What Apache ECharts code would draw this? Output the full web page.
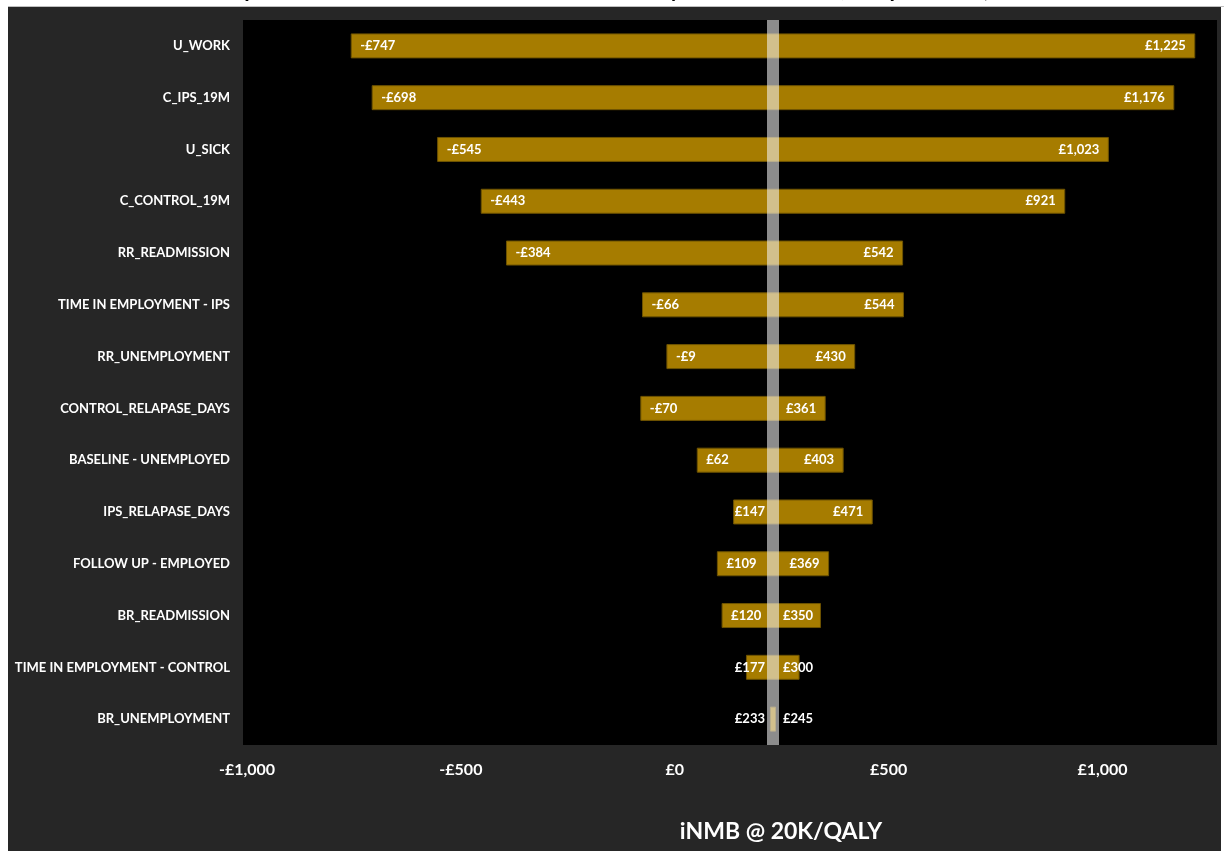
<!DOCTYPE html>
<html>
<head>
<meta charset="utf-8">
<script src="https://cdn.jsdelivr.net/npm/echarts@6/dist/echarts.min.js"></script>
<style>
html,body{margin:0;padding:0;background:#fff;}
#c{width:1224px;height:851px;}
</style>
</head>
<body>
<div id="c"></div>
<script>
const categories = ['U_WORK','C_IPS_19M','U_SICK','C_CONTROL_19M','RR_READMISSION','TIME IN EMPLOYMENT - IPS','RR_UNEMPLOYMENT','CONTROL_RELAPASE_DAYS','BASELINE - UNEMPLOYED','IPS_RELAPASE_DAYS','FOLLOW UP - EMPLOYED','BR_READMISSION','TIME IN EMPLOYMENT - CONTROL','BR_UNEMPLOYMENT'];
const lowValues  = [-747,-698,-545,-443,-384,-66,-9,-70,62,147,109,120,177,233];
const highValues = [1225,1176,1023,921,542,544,430,361,403,471,369,350,300,245];
const baseValue = 239;
const axisMin = -1000, axisMax = 1277, axisStep = 500;
const titleText = 'parameters on the incremental net monetary benefit at a £20,000 per QALY)';
const axisTitle = 'iNMB @ 20K/QALY';

const FONT = 'Lato, "Open Sans", sans-serif';
const LABEL_FONT = 'bold 13px ' + FONT;

function fmt(v){
  const s = Math.abs(Math.round(v)).toString().replace(/\B(?=(\d{3})+(?!\d))/g, ',');
  return (v < 0 ? '-£' : '£') + s;
}
const mctx = document.createElement('canvas').getContext('2d');
function measure(t){ mctx.font = LABEL_FONT; return mctx.measureText(t).width; }

const chart = echarts.init(document.getElementById('c'), null, {renderer:'canvas'});
const data = categories.map((c,i)=>[i, lowValues[i], highValues[i]]);

chart.setOption({
  backgroundColor:'#ffffff',
  animation:false,
  graphic:[
    {type:'rect', z:-10, shape:{x:8, y:7, width:1213, height:844}, style:{fill:'#262626'}},
    {type:'line', z:-9, shape:{x1:8, y1:6.5, x2:1224, y2:6.5}, style:{stroke:'#bfbfbf', lineWidth:1}},
    {type:'text', z:-8, x:617, y:1, style:{text:titleText, fill:'#000', font:'bold 22px ' + FONT, align:'center', verticalAlign:'bottom'}},
    {type:'text', x:781, y:832, style:{text:axisTitle, fill:'#ffffff', font:'bold 23px ' + FONT, align:'center', verticalAlign:'middle'}}
  ],
  grid:{left:243, right:7, top:20, bottom:106, show:true, backgroundColor:'#000000', borderWidth:0},
  xAxis:{
    type:'value', min:axisMin, max:axisMax, interval:axisStep,
    splitLine:{show:false}, axisLine:{show:false}, axisTick:{show:false},
    axisLabel:{
      color:'#ffffff', fontFamily:FONT, fontWeight:'bold', fontSize:16, margin:17,
      padding:[0,0,0,8],
      formatter:v => (v % axisStep === 0 ? fmt(v) : '')
    }
  },
  yAxis:{
    type:'category', data:categories, inverse:true,
    axisLine:{show:false}, axisTick:{show:false}, splitLine:{show:false},
    axisLabel:{color:'#ffffff', fontFamily:FONT, fontWeight:'bold', fontSize:13, margin:13}
  },
  series:[
    {
      type:'custom',
      z:2,
      data:data,
      encode:{x:[1,2], y:0},
      renderItem:function(params, api){
        const cat = api.value(0), lo = api.value(1), hi = api.value(2);
        const p0 = api.coord([lo, cat]);
        const p1 = api.coord([hi, cat]);
        const pb = api.coord([baseValue, cat]);
        const h = 24, y = p0[1];
        const loT = fmt(lo), hiT = fmt(hi);
        const loX = Math.min(p0[0] + 9, pb[0] - 8 - measure(loT));
        const hiX = Math.max(p1[0] - 9, pb[0] + 10 + measure(hiT));
        return {type:'group', children:[
          {type:'rect', shape:{x:p0[0], y:y - h/2, width:p1[0] - p0[0], height:h},
           style:{fill:'#A67C00', stroke:'#6e5300', lineWidth:1}},
          {type:'text', z2:20, x:loX, y:y, style:{text:loT, fill:'#ffffff', font:LABEL_FONT, align:'left', verticalAlign:'middle'}},
          {type:'text', z2:20, x:hiX, y:y, style:{text:hiT, fill:'#ffffff', font:LABEL_FONT, align:'right', verticalAlign:'middle'}}
        ]};
      }
    },
    {
      type:'line', z:5, data:[], silent:true,
      markLine:{
        silent:true, symbol:'none', animation:false,
        label:{show:false},
        lineStyle:{color:'rgba(241,241,241,0.58)', width:12, type:'solid'},
        data:[{xAxis:baseValue}]
      }
    }
  ]
});
</script>
</body>
</html>
